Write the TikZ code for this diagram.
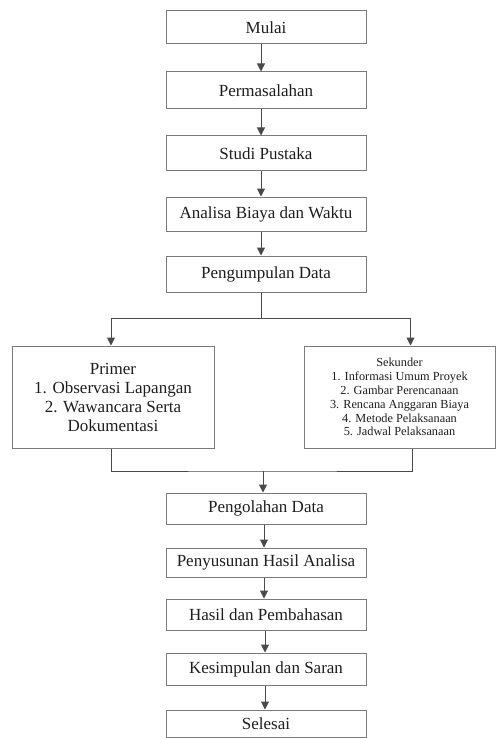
\documentclass[tikz,border=0pt]{standalone}
\usepackage{fontspec}
\setmainfont{Liberation Serif}
\usetikzlibrary{arrows.meta}
\definecolor{boxline}{HTML}{7A7A7A}
\definecolor{conn}{HTML}{4A4A4A}
\definecolor{txt}{HTML}{1E1E1E}
\begin{document}
\begin{tikzpicture}[x=1pt,y=-1pt,
  box/.style={draw=boxline,line width=1pt,fill=white,text=txt,inner sep=0pt,
    minimum width=200pt,align=center,font=\fontsize{17}{19}\selectfont},
  line/.style={draw=conn,line width=1pt},
  arr/.style={line,-{Triangle[width=8pt,length=8pt]}}]
\useasboundingbox (0,0) rectangle (496,738);
\node[box,minimum height=33pt] (mulai) at (266,27.5) {Mulai};
\node[box,minimum height=37pt] (perm) at (266,90.5) {Permasalahan};
\node[box,minimum height=35pt] (studi) at (266,153.5) {Studi Pustaka};
\node[box,minimum height=34pt] (analisa) at (266,214) {Analisa Biaya dan Waktu};
\node[box,minimum height=36pt] (kumpul) at (266,274) {Pengumpulan Data};
\node[box,minimum width=202pt,minimum height=102pt] (primer) at (113,397)
  {Primer\\1. Observasi Lapangan\\2. Wawancara Serta\\Dokumentasi};
\node[box,minimum width=191pt,minimum height=102pt,font=\fontsize{12.3}{13.9}\selectfont] (sekunder) at (399.5,397)
  {Sekunder\\1. Informasi Umum Proyek\\2. Gambar Perencanaan\\3. Rencana Anggaran Biaya\\4. Metode Pelaksanaan\\5. Jadwal Pelaksanaan};
\node[box,minimum height=31pt] (olah) at (266,508.5) {Pengolahan Data};
\node[box,minimum height=29pt] (susun) at (266,562.5) {Penyusunan Hasil Analisa};
\node[box,minimum height=31pt] (hasil) at (266,614.5) {Hasil dan Pembahasan};
\node[box,minimum height=32pt] (kesim) at (266,669) {Kesimpulan dan Saran};
\node[box,minimum height=27pt] (selesai) at (266,723.5) {Selesai};
\draw[arr] ([xshift=-5pt]mulai.south) -- ([xshift=-5pt]perm.north);
\draw[arr] ([xshift=-5pt]perm.south) -- ([xshift=-5pt]studi.north);
\draw[arr] ([xshift=-5pt]studi.south) -- ([xshift=-5pt]analisa.north);
\draw[arr] ([xshift=-5pt]analisa.south) -- ([xshift=-5pt]kumpul.north);
\draw[line] ([xshift=-5pt]kumpul.south) -- ++(0,26) coordinate (bj);
\draw[arr] (bj) -| ([xshift=-2pt]primer.north);
\draw[arr] (bj) -| ([xshift=11pt]sekunder.north);
\coordinate (mj) at (263,471);
\draw[line] ([xshift=-2pt]primer.south) |- (mj) -| ([xshift=13pt]sekunder.south);
\draw[arr] (mj) -- ([xshift=-3pt]olah.north);
\draw[arr] ([xshift=-2pt]olah.south) -- ([xshift=-2pt]susun.north);
\draw[arr] ([xshift=-2pt]susun.south) -- ([xshift=-2pt]hasil.north);
\draw[arr] ([xshift=-1pt]hasil.south) -- ([xshift=-1pt]kesim.north);
\draw[arr] ([xshift=-1pt]kesim.south) -- ([xshift=-1pt]selesai.north);
\end{tikzpicture}
\end{document}
